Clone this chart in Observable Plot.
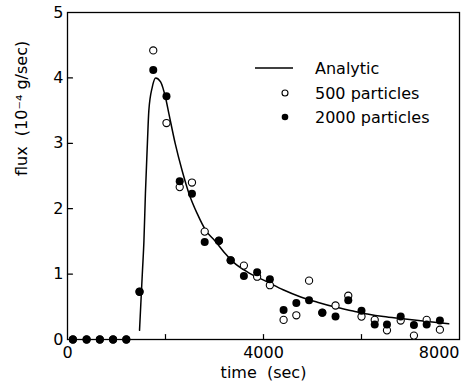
<!DOCTYPE html>
<html><head><meta charset="utf-8">
<script src="https://cdn.jsdelivr.net/npm/d3@7"></script>
<script src="https://cdn.jsdelivr.net/npm/@observablehq/plot@0.6"></script>
<style>body{margin:0;background:#fff} #chart{position:relative;width:467px;height:388px}</style>
</head><body><div id="chart"></div>
<script>
// ---- data ----
const times = [110,390,660,930,1200,1470,1750,2020,2290,2540,2800,3090,3330,3600,3870,4130,4410,4670,4930,5200,5470,5730,6000,6270,6520,6800,7070,7330,7600];
const flux500 = [0,0,0,0,0,0.73,4.42,3.31,2.33,2.40,1.65,1.51,1.21,1.13,0.96,0.83,0.30,0.37,0.90,0.41,0.52,0.67,0.35,0.30,0.14,0.29,0.06,0.30,0.15];
const flux2000 = [0,0,0,0,0,0.73,4.12,3.72,2.42,2.23,1.49,1.51,1.21,0.97,1.03,0.92,0.45,0.56,0.60,0.41,0.35,0.60,0.44,0.23,0.23,0.35,0.22,0.23,0.29];
const analyticTime = [1470,1500,1530,1560,1590,1630,1660,1730,1800,1900,2000,2070,2200,2340,2480,2650,2820,3020,3200,3390,3700,4080,4400,4760,5100,5440,5800,6120,6450,6800,7300,7780];
const analyticFlux = [0.14,0.60,1.05,1.51,2.23,2.99,3.50,3.86,4.00,3.94,3.70,3.45,2.99,2.58,2.23,1.92,1.67,1.50,1.33,1.18,1.02,0.88,0.76,0.65,0.57,0.50,0.44,0.39,0.35,0.32,0.28,0.24];
const xTickLabels = [0, 4000];
const xEndTickLabel = [8000];
const xMinorTicks = [2000, 4000, 6000];
const yMinorTicks = [1, 2, 3, 4];
const yTicks = [0, 1, 2, 3, 4, 5];
const legendLabels = ["Analytic", "500 particles", "2000 particles"];
const xLabel = "time  (sec)";
const yLabel = "flux  (10\u207B\u2074 g/sec)";

const pts500 = times.map((t, i) => ({t, f: flux500[i]}));
const pts2000 = times.map((t, i) => ({t, f: flux2000[i]}));
const analytic = analyticTime.map((t, i) => ({t, f: analyticFlux[i]}));

const tickShape = {draw(context, l) { context.moveTo(0, 0); context.lineTo(0, -l); }};
const font = "DejaVu Sans";
const plot = Plot.plot({
  width: 467, height: 388,
  marginLeft: 67, marginRight: 8, marginTop: 12, marginBottom: 49,
  style: {fontFamily: font, fontSize: "16px", background: "#fff", color: "#000"},
  x: {domain: [0, 8000]},
  y: {domain: [0, 5]},
  marks: [
    Plot.frame({stroke: "#000", strokeWidth: 1.3}),
    Plot.vector(xMinorTicks, {x: d => d, frameAnchor: "bottom", length: 5, anchor: "start", rotate: 0, shape: tickShape, stroke: "#000", strokeWidth: 1.2}),
    Plot.vector(yMinorTicks, {y: d => d, frameAnchor: "left", length: 5, anchor: "start", rotate: 90, shape: tickShape, stroke: "#000", strokeWidth: 1.2}),
    Plot.axisX(xTickLabels, {tickSize: 0, tickPadding: 7, tickFormat: "d", label: null, fontSize: 16}),
    Plot.axisX(xEndTickLabel, {tickSize: 0, tickPadding: 7, tickFormat: "d", label: null, fontSize: 16, textAnchor: "end"}),
    Plot.axisY(yTicks, {tickSize: 0, tickPadding: 4, tickFormat: "d", label: null, fontSize: 16}),
    Plot.text([xLabel], {text: d => d, frameAnchor: "bottom", dy: 38, fontSize: 16}),
    Plot.text([yLabel], {text: d => d, frameAnchor: "left", dx: -46, rotate: -90, fontSize: 16}),
    Plot.line(analytic, {x: "t", y: "f", curve: "monotone-x", stroke: "#000", strokeWidth: 1.5}),
    Plot.dot(pts500, {x: "t", y: "f", r: 3.6, fill: "#fff", stroke: "#000", strokeWidth: 1.1}),
    Plot.dot(pts2000, {x: "t", y: "f", r: 4, fill: "#000", stroke: "none"})
  ]
});
document.getElementById("chart").appendChild(plot);

// ---- legend (drawn inside the plot's svg) ----
const svg = d3.select(plot);
const lg = svg.append("g").attr("font-family", font).attr("font-size", 16).attr("text-anchor", "start");
const rowY = [68, 93, 117];
lg.append("line").attr("x1", 255).attr("x2", 293).attr("y1", rowY[0]).attr("y2", rowY[0])
  .attr("stroke", "#000").attr("stroke-width", 1.5);
lg.append("circle").attr("cx", 285).attr("cy", rowY[1]).attr("r", 3)
  .attr("fill", "#fff").attr("stroke", "#000").attr("stroke-width", 1.1);
lg.append("circle").attr("cx", 285).attr("cy", rowY[2]).attr("r", 3.3).attr("fill", "#000");
legendLabels.forEach((lab, i) => {
  lg.append("text").attr("x", 315).attr("y", rowY[i]).attr("dy", "0.35em").attr("fill", "#000").text(lab);
});
</script>
</body></html>
